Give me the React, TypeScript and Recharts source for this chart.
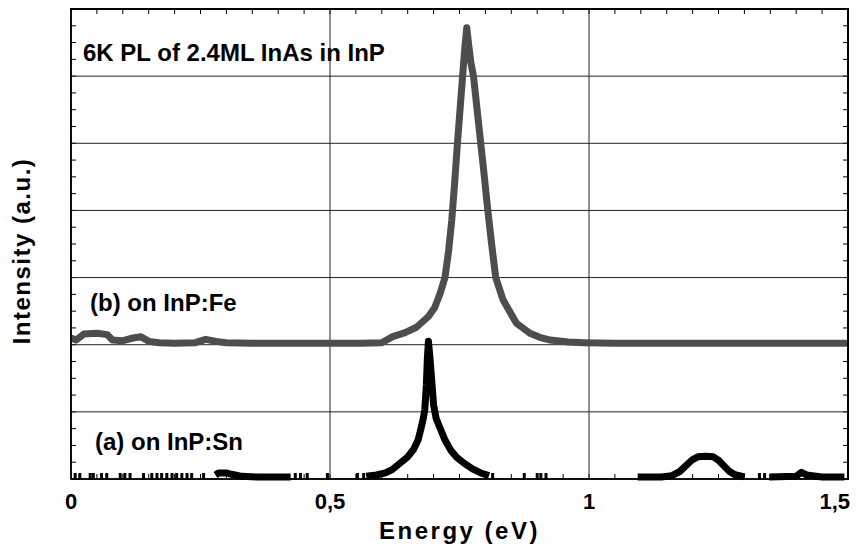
import React from 'react';
import { ComposedChart, Line, Scatter, XAxis, YAxis, ReferenceLine, ReferenceArea, Label } from 'recharts';

// chart size (page has an 8px body margin)
const W = 855;
const H = 540;
const MARGIN = { top: 1, right: 15, bottom: 9, left: 0 };
const Y_AXIS_W = 63;
const X_AXIS_H = 60;
const FONT = '"Liberation Sans", Arial, Helvetica, sans-serif';

// (b) on InP:Fe  - energy (eV) / intensity (a.u., offset by 2)
const energyB = [
  0, 0.01, 0.025, 0.05, 0.07, 0.08, 0.1, 0.12, 0.135, 0.15,
  0.17, 0.2, 0.24, 0.26, 0.28, 0.3, 0.35, 0.4, 0.45, 0.5,
  0.56, 0.6, 0.621, 0.645, 0.667, 0.69, 0.702, 0.712, 0.722, 0.729,
  0.735, 0.741, 0.746, 0.751, 0.756, 0.76, 0.764, 0.768, 0.772, 0.777,
  0.784, 0.791, 0.798, 0.804, 0.812, 0.82, 0.834, 0.848, 0.86, 0.886,
  0.905, 0.925, 0.96, 0.99, 1.05, 1.1, 1.2, 1.3, 1.4, 1.5,
];
const intensityB = [
  2.1, 2.07, 2.16, 2.17, 2.15, 2.07, 2.06, 2.1, 2.12, 2.05,
  2.03, 2.02, 2.03, 2.08, 2.05, 2.03, 2.02, 2.02, 2.02, 2.02,
  2.02, 2.03, 2.12, 2.18, 2.26, 2.42, 2.55, 2.75, 3.0, 3.4,
  3.85, 4.45, 5.0, 5.5, 6.0, 6.4, 6.72, 6.45, 6.2, 6.0,
  5.5, 5.0, 4.5, 4.05, 3.5, 3.0, 2.67, 2.48, 2.32, 2.17,
  2.11, 2.07, 2.04, 2.03, 2.02, 2.02, 2.02, 2.02, 2.02, 2.02,
];

// (a) on InP:Sn - null marks a gap in the recorded points
const energyA = [
  0.279, 0.285, 0.3, 0.31, 0.33, 0.36, 0.4, 0.424, 0.5, 0.57,
  0.59, 0.607, 0.62, 0.636, 0.65, 0.662, 0.67, 0.675, 0.68, 0.683,
  0.686, 0.688, 0.69, 0.693, 0.696, 0.7, 0.705, 0.714, 0.722, 0.733,
  0.745, 0.758, 0.775, 0.791, 0.807, 0.9, 1.094, 1.14, 1.16, 1.175,
  1.19, 1.2, 1.21, 1.225, 1.24, 1.25, 1.26, 1.27, 1.28, 1.3,
  1.32, 1.348, 1.4, 1.41, 1.42, 1.45, 1.493,
];
const intensityA = [
  0.06, 0.09, 0.09, 0.07, 0.04, 0.03, 0.03, 0.03, null, 0.04,
  0.06, 0.09, 0.14, 0.24, 0.33, 0.45, 0.58, 0.73, 0.9, 1.03,
  1.4, 1.8, 2.05, 1.8, 1.5, 1.1, 0.9, 0.73, 0.58, 0.43,
  0.32, 0.24, 0.15, 0.09, 0.05, null, 0.03, 0.03, 0.05, 0.11,
  0.22, 0.29, 0.33, 0.34, 0.33, 0.28, 0.2, 0.12, 0.07, 0.03,
  null, 0.03, 0.04, 0.1, 0.06, 0.03, 0.03,
];

// isolated points of (a) near zero
const noiseEnergyA = [
  0.008, 0.017, 0.037, 0.043, 0.059, 0.069, 0.095, 0.104, 0.114, 0.14,
  0.156, 0.166, 0.175, 0.185, 0.195, 0.204, 0.214, 0.224, 0.233, 0.256,
  0.433, 0.443, 0.456, 0.495, 0.553, 0.565, 0.814, 0.875, 0.9, 0.907,
  0.917, 1.329, 1.339,
];
const noiseLevelA = 0.03;

const X_MAX = 1.5;
const Y_MAX = 7;
const xMajor = [0, 0.5, 1, 1.5];
const xGridLines = [0.5, 1];
const yGridLines = [1, 2, 3, 4, 5, 6];
const xMinor = Array.from({ length: 29 }, (_, i) => +((i + 1) * 0.05).toFixed(2));
const yMinor = Array.from({ length: 27 }, (_, i) => (i + 1) * 0.25);

const dataB = energyB.map((e, i) => ({ e, v: intensityB[i] }));
const dataA = energyA.map((e, i) => ({ e, v: intensityA[i] }));
const dataNoise = noiseEnergyA.map((e) => ({ e, v: noiseLevelA }));

const TICK = 5;

const NoiseMark = (props: any) => {
  const { cx, cy } = props;
  if (cx == null || cy == null) return null;
  return <rect x={cx - 1.5} y={cy - 4} width={3} height={7} fill="#000" />;
};

// frame, inward minor ticks on all four sides and the in-plot texts,
// laid out on the rectangle that the reference area spans (whole domain)
const PlotFrame = (props: any) => {
  const { x, y, width, height } = props;
  if ([x, y, width, height].some((n) => typeof n !== 'number' || isNaN(n))) return null;
  const right = x + width;
  const bottom = y + height;
  const px = (e: number) => x + (width * e) / X_MAX;
  const py = (v: number) => bottom - (height * v) / Y_MAX;
  return (
    <g>
      <rect x={x} y={y} width={width} height={height} fill="none" stroke="#000" strokeWidth={1.5} />
      {xMinor.map((e) => (
        <g key={`mx${e}`} stroke="#000" strokeWidth={1}>
          <line x1={px(e)} x2={px(e)} y1={y} y2={y + TICK} />
          <line x1={px(e)} x2={px(e)} y1={bottom} y2={bottom - TICK} />
        </g>
      ))}
      {yMinor.map((v) => (
        <g key={`my${v}`} stroke="#000" strokeWidth={1}>
          <line x1={x} x2={x + TICK} y1={py(v)} y2={py(v)} />
          <line x1={right} x2={right - TICK} y1={py(v)} y2={py(v)} />
        </g>
      ))}
      <g fontFamily={FONT} fontWeight={700} fontSize={24} fill="#000">
        <text x={x + 12} y={y + 52}>6K PL of 2.4ML InAs in InP</text>
        <text x={x + 19} y={y + 302}>(b) on InP:Fe</text>
        <text x={x + 24} y={y + 441}>(a) on InP:Sn</text>
      </g>
    </g>
  );
};

const YTitle = (props: any) => {
  const vb = props.viewBox || {};
  const cx = (vb.x ?? 0) + 22;
  const cy = (vb.y ?? 0) + (vb.height ?? 0) / 2 + 7;
  return (
    <text
      transform={`translate(${cx},${cy}) rotate(-90)`}
      textAnchor="middle"
      fontFamily={FONT}
      fontWeight={700}
      fontSize={24}
      letterSpacing={1.5}
      fill="#000"
    >
      Intensity (a.u.)
    </text>
  );
};

// major energies only, the last label ends at the frame
const EnergyTick = (props: any) => {
  const { x, y, payload } = props;
  const v = payload.value;
  const last = v === xMajor[xMajor.length - 1];
  return (
    <text
      x={last ? x + 2 : x}
      y={y}
      dy="0.71em"
      textAnchor={last ? 'end' : 'middle'}
      fill="#000"
      fontSize={22}
      fontWeight={700}
      fontFamily={FONT}
    >
      {String(v).replace('.', ',')}
    </text>
  );
};

const frame = { stroke: '#000', strokeWidth: 1.5 };

// outline of the plot box, from the same margins the chart uses
const plotBox = {
  left: MARGIN.left + Y_AXIS_W - 1,
  top: MARGIN.top - 1,
  width: W - MARGIN.left - MARGIN.right - Y_AXIS_W + 2,
  height: H - MARGIN.top - MARGIN.bottom - X_AXIS_H + 2,
};

export default function App() {
  return (
    <div style={{ position: 'relative', width: W, height: H, background: '#fff' }}>
      <ComposedChart width={W} height={H} margin={MARGIN}>
        <XAxis
          xAxisId="x"
          dataKey="e"
          type="number"
          domain={[0, X_MAX]}
          ticks={xMajor}
          interval={0}
          height={X_AXIS_H}
          tickLine={false}
          tickMargin={8}
          tick={<EnergyTick />}
          axisLine={frame}
        >
          <Label
            value="Energy (eV)"
            position="insideBottom"
            offset={0}
            style={{ fill: '#000', fontSize: 24, fontWeight: 700, fontFamily: FONT, letterSpacing: 2.5 }}
          />
        </XAxis>
        <YAxis
          yAxisId="y"
          type="number"
          domain={[0, Y_MAX]}
          ticks={[0, Y_MAX]}
          width={Y_AXIS_W}
          tick={false}
          tickLine={false}
          axisLine={frame}
        >
          <Label content={<YTitle />} />
        </YAxis>
        {xGridLines.map((x) => (
          <ReferenceLine key={`gx${x}`} xAxisId="x" yAxisId="y" x={x} stroke="#222" strokeWidth={1} />
        ))}
        {yGridLines.map((y) => (
          <ReferenceLine key={`gy${y}`} xAxisId="x" yAxisId="y" y={y} stroke="#222" strokeWidth={1} />
        ))}
        <ReferenceArea
          xAxisId="x"
          yAxisId="y"
          x1={0}
          x2={X_MAX}
          y1={0}
          y2={Y_MAX}
          ifOverflow="visible"
          shape={PlotFrame}
        />
        <Line
          xAxisId="x"
          yAxisId="y"
          data={dataB}
          dataKey="v"
          type="linear"
          stroke="#4d4d4d"
          strokeWidth={7}
          strokeLinejoin="round"
          dot={false}
          isAnimationActive={false}
        />
        <Line
          xAxisId="x"
          yAxisId="y"
          data={dataA}
          dataKey="v"
          type="linear"
          stroke="#000"
          strokeWidth={7}
          strokeLinejoin="round"
          connectNulls={false}
          dot={false}
          isAnimationActive={false}
        />
        <Scatter
          xAxisId="x"
          yAxisId="y"
          data={dataNoise}
          dataKey="v"
          shape={NoiseMark}
          isAnimationActive={false}
        />
      </ComposedChart>
      <div
        style={{
          position: 'absolute',
          ...plotBox,
          boxSizing: 'border-box',
          borderTop: '2px solid #000',
          borderRight: '2px solid #000',
          pointerEvents: 'none',
        }}
      />
    </div>
  );
}
